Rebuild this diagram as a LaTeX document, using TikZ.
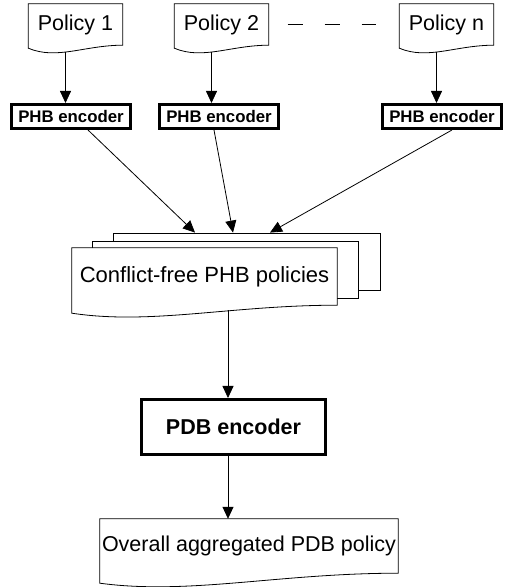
\documentclass[tikz,border=0pt]{standalone}
\usepackage{fontspec}
\setmainfont{Liberation Sans}
\usetikzlibrary{arrows.meta,calc,backgrounds}

% document shape: box with a wavy lower edge, drawn behind the node text
\newcommand{\docwave}[2]{%
  \begin{scope}[on background layer]
    \filldraw[fill=white, line width=0.8pt] (#1.north west) -- (#1.north east) -- (#1.south east)
      .. controls ($(#1.south east)!0.4!(#1.south west)$)
         and ($(#1.south east)!0.7!(#1.south west)+(0,-#2-12)$)
      .. ($(#1.south west)+(0,-#2)$) -- cycle;
  \end{scope}
}

\begin{document}
\begin{tikzpicture}[
  x=1pt, y=1pt,
  doc/.style={rectangle, inner sep=0pt, font=\fontsize{21.5}{25}\selectfont},
  policy/.style={doc, minimum width=94pt, minimum height=41pt},
  encoder/.style={rectangle, draw, line width=2.6pt, inner sep=0pt, font=\bfseries\fontsize{16.8}{19}\selectfont},
  phb/.style={encoder, minimum width=119.4pt, minimum height=24.4pt},
  page/.style={rectangle, draw, fill=white, line width=0.8pt, minimum width=266pt, minimum height=57pt},
  arrow/.style={-{Triangle[length=12pt,width=11pt]}, line width=0.8pt},
  dashline/.style={line width=0.8pt, dash pattern=on 15pt off 22pt},
]
\useasboundingbox (0,0) rectangle (511,587);

% === INPUT POLICIES ===
\node[policy] (pol1) at (75.5,562.5)  {Policy 1};
\node[policy] (pol2) at (221.5,562.5) {Policy 2};
\node[policy] (poln) at (446.5,562.5) {Policy n};
\docwave{pol1}{3}
\docwave{pol2}{3}
\docwave{poln}{3}
\draw[dashline] ([xshift=19pt]pol2.east) -- ([xshift=-23pt]poln.west);

% === PHB ENCODERS ===
\node[phb] (phb1) at (71,470.5)  {PHB encoder};
\node[phb] (phb2) at (219,470.5) {PHB encoder};
\node[phb] (phb3) at (442,470.5) {PHB encoder};

\draw[arrow] ([xshift=-10pt,yshift=-6.5pt]pol1.south) -- ([xshift=-10pt]pol1.south |- phb1.north);
\draw[arrow] ([xshift=-10pt,yshift=-6.5pt]pol2.south) -- ([xshift=-10pt]pol2.south |- phb2.north);
\draw[arrow] ([xshift=-10pt,yshift=-6.5pt]poln.south) -- ([xshift=-10pt]poln.south |- phb3.north);

% === STACK OF CONFLICT-FREE POLICIES ===
\begin{scope}[on background layer]
  \node[page, minimum width=267pt] (conf3) at (246.5,325.5) {};
  \node[page] (conf2) at (225,317.5) {};
\end{scope}
\node[doc, minimum width=265pt, minimum height=57pt, font=\fontsize{22}{26}\selectfont] (conf) at (204.5,310.5) {Conflict-free PHB policies};
\docwave{conf}{8}

\draw[arrow] ([xshift=17pt]phb1.south)  -- ([xshift=-51.5pt]conf3.north);
\draw[arrow] ([xshift=-5pt]phb2.south)  -- ([xshift=-13.5pt]conf3.north);
\draw[arrow] ([xshift=10pt]phb3.south)  -- ([xshift=23.5pt]conf3.north);

% === PDB ENCODER AND RESULT ===
\node[encoder, minimum width=184.4pt, minimum height=55.4pt, font=\bfseries\fontsize{21.5}{25}\selectfont] (pdb) at (233.5,160) {PDB encoder};
\node[doc, minimum width=298pt, minimum height=54pt] (final) at (249,41) {Overall aggregated PDB policy};
\docwave{final}{10}

\draw[arrow] ([xshift=23.5pt,yshift=-5pt]conf.south) -- ([xshift=-5.5pt]pdb.north);
\draw[arrow] ([xshift=-5.5pt]pdb.south) -- ([xshift=-21pt]final.north);
\end{tikzpicture}
\end{document}
